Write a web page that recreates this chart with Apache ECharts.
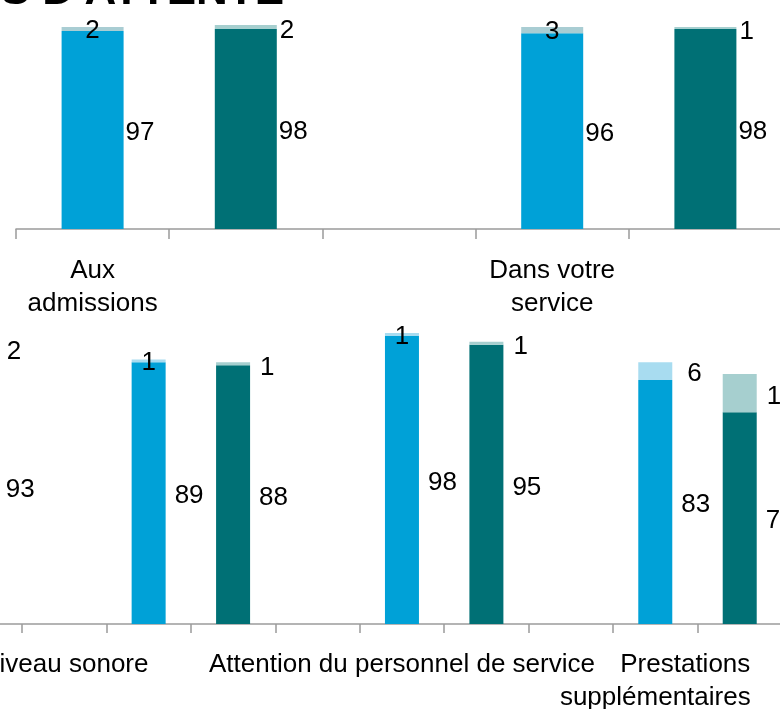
<!DOCTYPE html>
<html>
<head>
<meta charset="utf-8">
<script src="https://cdn.jsdelivr.net/npm/echarts@6/dist/echarts.min.js"></script>
<style>
html, body { margin: 0; padding: 0; background: #fff; }
#main { width: 780px; height: 709px; }
</style>
</head>
<body>
<div id="main"></div>
<script>
// panneau du haut (temps d'attente)
var topGroups = ['Aux\nadmissions', 'Dans votre\nservice'];
var topPatientsMain = [97, 96];
var topPatientsTop = [2, 3];
var topStaffMain = [98, 98];
var topStaffTop = [2, 1];

// panneau du bas, le premier groupe est coupé à gauche
var bottomGroups = ['', 'Niveau sonore', 'Attention du personnel de service', 'Prestations\nsupplémentaires'];
var bottomPatientsMain = ['-', 89, 98, 83];
var bottomPatientsTop = ['-', 1, 1, 6];
var bottomStaffMain = [93, 88, 95, 72];
var bottomStaffTop = [2, 1, 1, 13];

var chart = echarts.init(document.getElementById('main'));
var FONT = '"Liberation Sans", Arial, sans-serif';

// chaque groupe = 3 emplacements : barre bleue, barre verte, vide
function slots(groups) {
	var out = [];
	groups.forEach(function (g) { out.push(g, '', ''); });
	return out;
}
function spread(values, pos) {
	var out = [];
	values.forEach(function (v) {
		for (var k = 0; k < 3; k++) out.push(k === pos ? v : '-');
	});
	return out;
}

function barSeries(gi, main1, top1, main2, top2, lightTop, dist) {
	var lbl = function (pos, d, off) {
		return { show: true, position: pos, distance: d, offset: off, color: '#000',
			fontSize: 26, fontFamily: FONT };
	};
	var lbTopData = spread(top1, 0).map(function (v) {
		if (v === '-') return v;
		return { value: v, label: v < 5 ? { position: 'inside', offset: [0, 2] } : { position: 'right', distance: dist + 6 } };
	});
	var common = { type: 'bar', xAxisIndex: gi, yAxisIndex: gi, stack: 'all' + gi,
		barWidth: gi === 0 ? 62 : 34, animation: false };
	return [
		Object.assign({ data: spread(main1, 0), itemStyle: { color: '#00a1d7' }, label: lbl('right', dist, [0, 3]) }, common),
		Object.assign({ data: spread(main2, 1), itemStyle: { color: '#007075' }, label: lbl('right', dist, [0, 3]) }, common),
		Object.assign({ data: lbTopData, itemStyle: { color: lightTop }, label: lbl('right', dist, [0, 3]) }, common),
		Object.assign({ data: spread(top2, 1), itemStyle: { color: '#a6cfcf' }, label: lbl('right', dist + 1, [0, 4]) }, common)
	];
}

var axisLine = { lineStyle: { color: '#9b9b9b', width: 1.5 } };

option = {
	backgroundColor: '#fff',
	graphic: [{
		type: 'text', x: 284, y: 14,
		style: { text: "TEMPS D'ATTENTE", font: 'bold 44px ' + FONT, fill: '#000', align: 'right', verticalAlign: 'bottom' }
	}],
	grid: [
		{ left: 16, top: 25, width: 6 * 153.2, height: 204, outerBoundsMode: 'none', containLabel: false },
		{ left: -146.9, top: 330, width: 12 * 84.44, height: 294, outerBoundsMode: 'none', containLabel: false }
	],
	xAxis: [
		{
			type: 'category', gridIndex: 0, data: slots(topGroups),
			axisLine: axisLine,
			axisTick: { show: true, length: 10, lineStyle: axisLine.lineStyle },
			axisLabel: { interval: 0, color: '#000', fontSize: 26, fontFamily: FONT, lineHeight: 33, margin: 25 }
		},
		{
			type: 'category', gridIndex: 1, data: slots(bottomGroups),
			axisLine: axisLine,
			axisTick: { show: true, length: 9, lineStyle: axisLine.lineStyle },
			axisLabel: {
				interval: 0, color: '#000', fontSize: 26, fontFamily: FONT, lineHeight: 33, margin: 24,
				formatter: function (v) {
					if (v === 'Niveau sonore') return '{l|' + v + '}';
					if (v.indexOf('\n') > -1) {
						var p = v.split('\n');
						return '{r|' + p[0] + '}\n{n|' + p[1] + '}';
					}
					return v;
				},
				rich: {
					l: { fontSize: 26, fontFamily: FONT, lineHeight: 33, padding: [0, 168, 0, 0] },
					r: { fontSize: 26, fontFamily: FONT, lineHeight: 33, padding: [0, 0, 0, 60] },
					n: { fontSize: 26, fontFamily: FONT, lineHeight: 33 }
				}
			}
		}
	],
	yAxis: [
		{ type: 'value', gridIndex: 0, min: 0, max: 100, show: false },
		{ type: 'value', gridIndex: 1, min: 0, max: 100, show: false }
	],
	series: barSeries(0, topPatientsMain, topPatientsTop, topStaffMain, topStaffTop, '#a9cdd3', 2)
		.concat(barSeries(1, bottomPatientsMain, bottomPatientsTop, bottomStaffMain, bottomStaffTop, '#a8dcf0', 9))
};
chart.setOption(option);
</script>
</body>
</html>
